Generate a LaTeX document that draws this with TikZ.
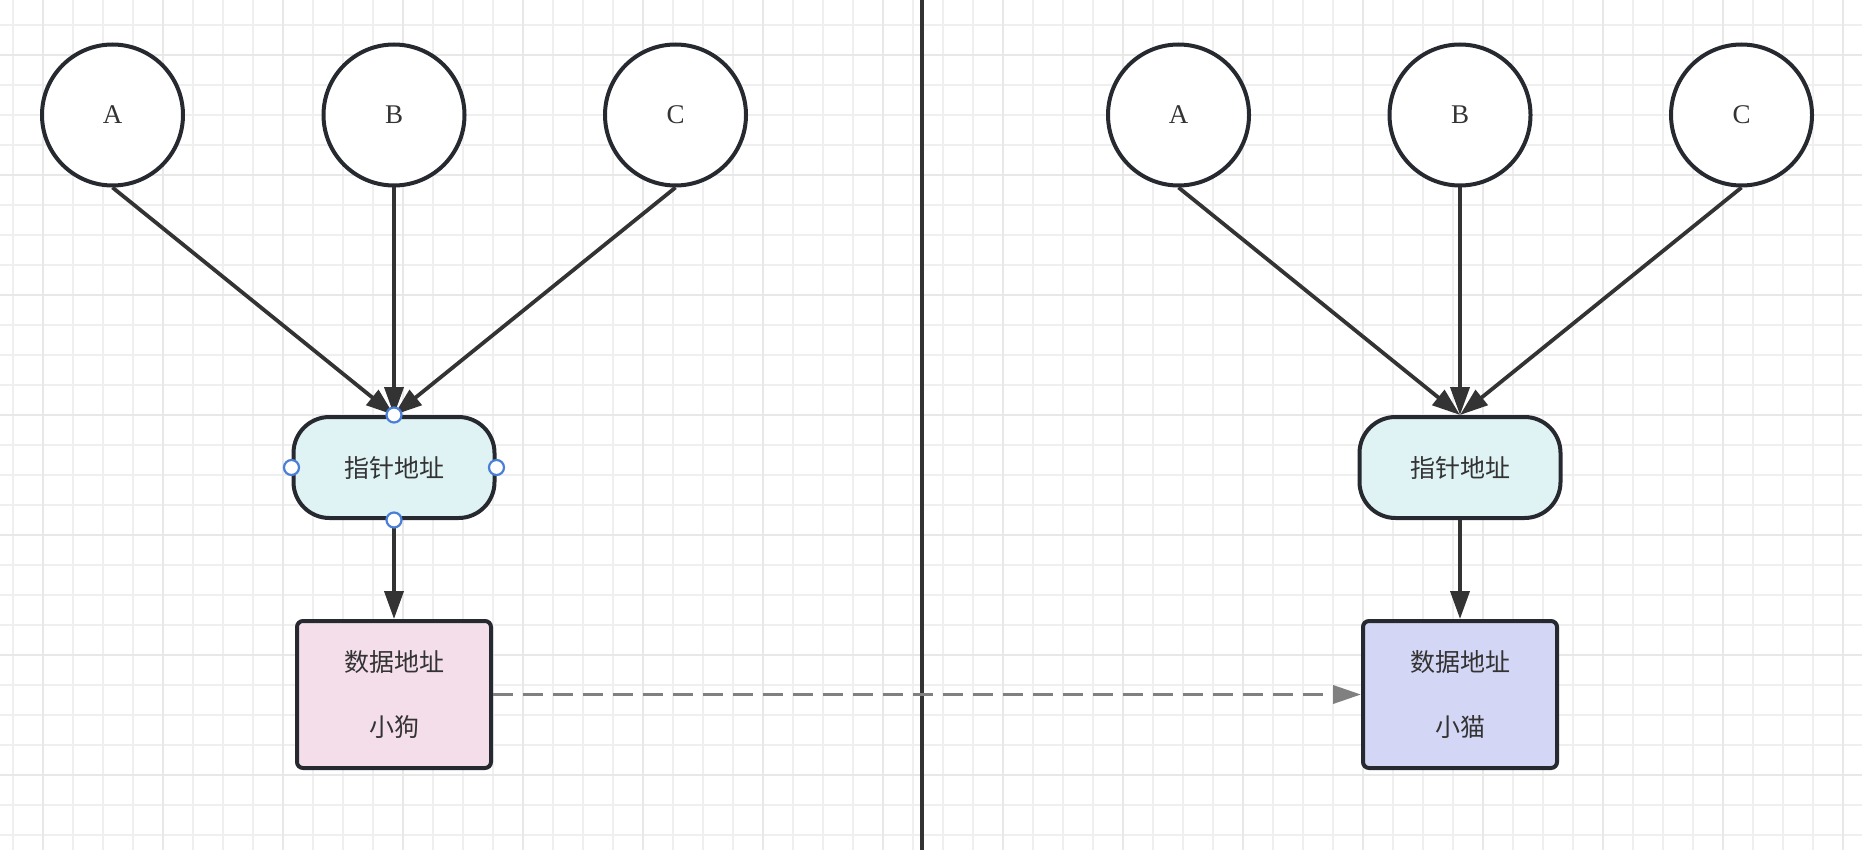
\documentclass[tikz,border=0pt]{standalone}
\usepackage{fontspec}
\setmainfont{Liberation Serif}
\newfontfamily\cjk{Noto Sans CJK SC}
\usetikzlibrary{arrows.meta,shapes.misc}
\definecolor{strokec}{HTML}{262A30}
\definecolor{arrowc}{HTML}{333333}
\definecolor{cyanfill}{HTML}{DFF2F4}
\definecolor{pinkfill}{HTML}{F3DEEA}
\definecolor{lavfill}{HTML}{D4D6F5}
\definecolor{handlec}{HTML}{4A7FD8}
\definecolor{gridc}{HTML}{EFEFEF}
\definecolor{dashc}{HTML}{808080}
\tikzset{
  letter/.style={circle,draw=strokec,line width=4pt,fill=white,minimum size=141pt,inner sep=0pt,font=\fontsize{27}{30}\selectfont,text=arrowc},
  ptrbox/.style={rectangle,rounded corners=36pt,draw=strokec,line width=4pt,fill=cyanfill,minimum width=201pt,minimum height=101pt,inner sep=0pt,font=\cjk\fontsize{25}{30}\selectfont,text=arrowc},
  databox/.style={rectangle,rounded corners=6pt,draw=strokec,line width=4pt,minimum width=194pt,minimum height=147pt,inner sep=0pt,align=center,font=\cjk\fontsize{25}{65}\selectfont,text=arrowc},
  conn/.style={draw=arrowc,line width=3.8pt,-{Triangle[length=28pt,width=19pt]}},
  dashconn/.style={draw=dashc,line width=3.6pt,dash pattern=on 20pt off 10pt,-{Triangle[length=28pt,width=18pt]}},
  handle/.style={circle,draw=handlec,fill=white,line width=2.2pt,minimum size=15pt,inner sep=0pt},
  minorgrid/.style={draw=gridc,line width=1.5pt},
  majorgrid/.style={draw=gridc!80!gray!60,line width=2.5pt}
}
\begin{document}
\begin{tikzpicture}[x=1pt,y=-1pt]
\useasboundingbox (0,0) rectangle (1862,850);
\fill[white] (0,0) rectangle (1862,850);
% grid
\foreach \k in {0,...,61} { \draw[minorgrid] ({13+30*\k},0) -- ({13+30*\k},850); }
\foreach \k in {0,...,27} { \draw[minorgrid] (0,{25+30*\k}) -- (1862,{25+30*\k}); }
\foreach \k in {0,...,15} { \draw[majorgrid] ({43+120*\k},0) -- ({43+120*\k},850); }
\foreach \k in {0,...,6} { \draw[majorgrid] (0,{55+120*\k}) -- (1862,{55+120*\k}); }
% divider
\coordinate (dtop) at (921.5,0);
\coordinate (dbot) at (921.5,850);
\draw[arrowc,line width=4pt] (dtop) -- (dbot);
% left side
\node[letter] (A1) at (112.5,115) {A};
\node[letter] (B1) at (394,115) {B};
\node[letter] (C1) at (675.5,115) {C};
\node[ptrbox] (P1) at (394,467.5) {指针地址};
\node[databox,fill=pinkfill] (D1) at (394,694.5) {数据地址\\小狗};
\draw[conn] (A1.south) -- (P1.north);
\draw[conn] (B1.south) -- (P1.north);
\draw[conn] (C1.south) -- (P1.north);
\draw[conn] (P1.south) -- (D1.north);
% right side
\node[letter] (A2) at (1178.5,115) {A};
\node[letter] (B2) at (1460,115) {B};
\node[letter] (C2) at (1741.5,115) {C};
\node[ptrbox] (P2) at (1460,467.5) {指针地址};
\node[databox,fill=lavfill] (D2) at (1460,694.5) {数据地址\\小猫};
\draw[conn] (A2.south) -- (P2.north);
\draw[conn] (B2.south) -- (P2.north);
\draw[conn] (C2.south) -- (P2.north);
\draw[conn] (P2.south) -- (D2.north);
% dashed link
\draw[dashconn] (D1.east) -- (D2.west);
% selection handles
\node[handle] (h1) at (P1.north) {};
\node[handle] (h2) at (P1.south) {};
\node[handle] (h3) at (P1.west) {};
\node[handle] (h4) at (P1.east) {};
\end{tikzpicture}
\end{document}
